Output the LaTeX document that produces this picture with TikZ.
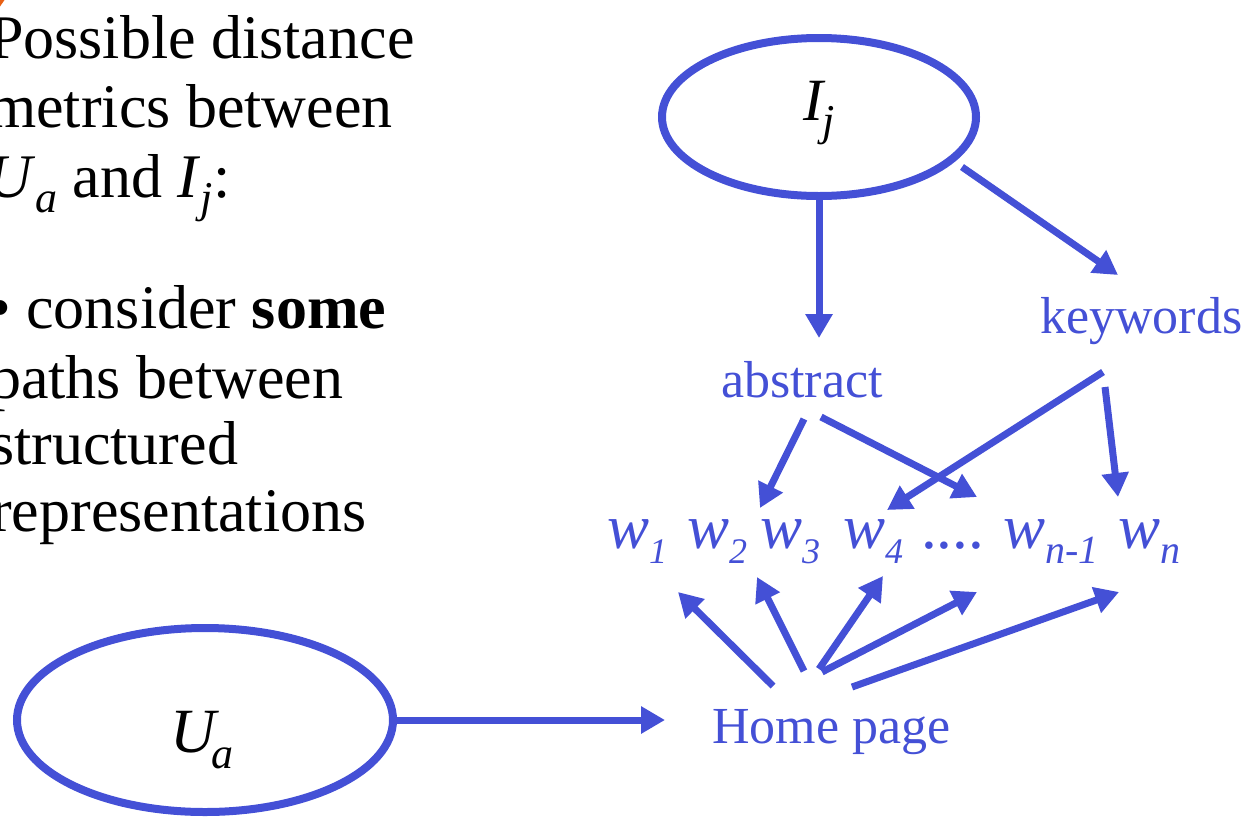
\documentclass[tikz,border=0pt]{standalone}
\usepackage{fontspec}
\setmainfont{Liberation Serif}
\usetikzlibrary{arrows.meta,shapes.geometric,calc}

\definecolor{linkblue}{RGB}{68,80,214}
\definecolor{markorange}{RGB}{232,96,20}

% lowered, smaller italic text used as a subscript
\newcommand{\lowsub}[3]{\raisebox{-#2pt}{\fontsize{#1}{#1}\selectfont\itshape #3}}

\tikzset{
  bodytext/.style={anchor=base west, inner sep=0pt, text=black,
    font=\fontsize{62}{70}\selectfont},
  bluelabel/.style={anchor=base west, inner sep=0pt, text=linkblue,
    font=\fontsize{52}{60}\selectfont},
  wlabel/.style={anchor=base west, inner sep=0pt, text=linkblue,
    font=\fontsize{63}{70}\selectfont\itshape},
  entitylabel/.style={anchor=base west, inner sep=0pt, text=black,
    font=\fontsize{62}{70}\selectfont\itshape},
  entity/.style={ellipse, draw=linkblue, line width=8pt, inner sep=0pt},
  link/.style={draw=linkblue, line width=7pt,
    -{Triangle[length=24pt,width=26pt]}},
}

\begin{document}
\begin{tikzpicture}[x=1pt,y=-1pt]
\clip (0,0) rectangle (1249,817);

% fragment of a marker at the corner
\fill[markorange] (0,0) -- (4.5,0) -- (0,6.5) -- cycle;

% explanatory text on the left
\node[bodytext] (t1) at (-11,58)  {Possible distance};
\node[bodytext] (t2) at (-12,127) {metrics between};
\node[bodytext] (t3) at (-13,197) {\textit{U}\lowsub{44}{15}{a} and \textit{I}\lowsub{44}{15}{j}:};
\node[bodytext] (t4) at (-11,328) {• consider \textbf{some}};
\node[bodytext] (t5) at (-10,398) {paths between};
\node[bodytext] (t6) at (-10,464) {structured};
\node[bodytext] (t7) at (-9,531)  {representations};

% the two entities
\node[entity, minimum width=314pt, minimum height=158pt] (Ij) at (819,117) {};
\node[entitylabel, font=\fontsize{60}{70}\selectfont\itshape] (Ijlbl) at (803,120) {I\kern-1pt\lowsub{44}{15}{j}};
\node[entity, minimum width=376pt, minimum height=184pt] (Ua) at (205,720) {};
\node[entitylabel, font=\fontsize{63}{70}\selectfont\itshape] (Ualbl) at (170,752) {U\kern-4pt\lowsub{44}{16}{a}};

% structured representations
\node[bluelabel] (abstract) at (721,397) {abstract};
\node[bluelabel] (keywords) at (1040,333) {keywords};
\node[bluelabel] (home) at (712,743) {Home page};

% word row
\node[wlabel] (w1)  at (607,548)  {w\lowsub{36}{15}{1}};
\node[wlabel] (w2)  at (687,548)  {w\lowsub{36}{15}{2}};
\node[wlabel] (w3)  at (760,548)  {w\lowsub{36}{15}{3}};
\node[wlabel] (w4)  at (843,548)  {w\lowsub{36}{15}{4}};
\node[wlabel, font=\fontsize{63}{70}\selectfont] (dots) at (921,548) {....};
\node[wlabel] (wn1) at (1003,548) {w\lowsub{40}{15}{n-1}};
\node[wlabel] (wn)  at (1118,548) {w\lowsub{40}{15}{n}};

% item side
\draw[link] (Ij.south) -- ($(abstract.base west)+(98,-59)$);
\draw[link] ($(Ij.center)+(143,50)$) -- ($(keywords.base west)+(78,-58)$);
\draw[link] ($(abstract.base west)+(83,22)$) -- ($(w2.base west)+(73,-40)$);
\draw[link] ($(abstract.base west)+(100,20)$) -- ($(dots.base west)+(56,-51)$);
\draw[link] ($(keywords.base west)+(63,39)$) -- ($(w4.base west)+(44,-38)$);
\draw[link] ($(keywords.base west)+(65,54)$) -- ($(wn.base west)+(0,-51)$);

% user side
\draw[link] (Ua.east) -- ($(home.base west)+(-47,-23)$);
\draw[link] ($(home.base west)+(61,-57)$)  -- ($(w1.base west)+(71,44)$);
\draw[link] ($(home.base west)+(92,-72)$)  -- ($(w2.base west)+(70,29)$);
\draw[link] ($(home.base west)+(107,-74)$) -- ($(w4.base west)+(40,28)$);
\draw[link] ($(home.base west)+(110,-71)$) -- ($(dots.base west)+(56,44)$);
\draw[link] ($(home.base west)+(140,-56)$) -- ($(wn.base west)+(1,44)$);
\end{tikzpicture}
\end{document}
